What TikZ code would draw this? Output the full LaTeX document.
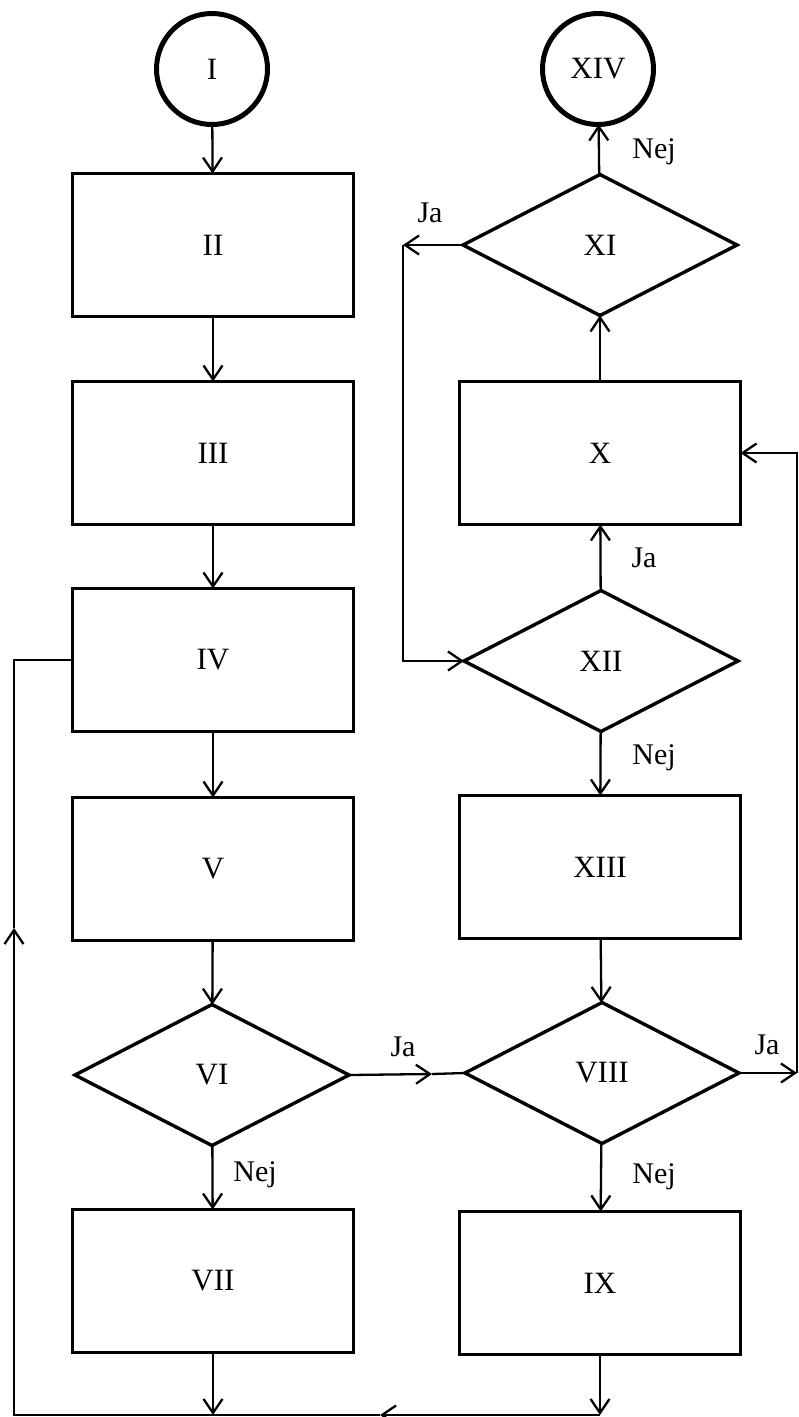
\documentclass[tikz,border=0pt]{standalone}
\usepackage{fontspec}
\setmainfont{Liberation Serif}
\usetikzlibrary{arrows.meta,shapes.geometric}
\begin{document}
\begin{tikzpicture}[x=1pt,y=-1pt,
  box/.style={draw,rectangle,line width=3.8pt,minimum width=281pt,minimum height=143pt,outer sep=0pt,font=\fontsize{31}{36}\selectfont},
  dia/.style={draw,diamond,line width=3.4pt,minimum width=274pt,minimum height=141pt,inner sep=0pt,outer sep=0pt,font=\fontsize{31}{36}\selectfont},
  term/.style={draw,circle,line width=5pt,minimum size=111pt,inner sep=0pt,outer sep=0pt,font=\fontsize{31}{36}\selectfont},
  lbl/.style={font=\fontsize{30}{34}\selectfont,inner sep=0pt},
  conn/.style={line width=2.3pt},
  arr/.style={conn,-{Straight Barb[length=14pt,width=19pt,line width=2.3pt]}}]
\useasboundingbox (0,0) rectangle (799,1417);
% left column
\node[term] (I) at (212,69) {I};
\node[box] (II) at (213,245) {II};
\node[box] (III) at (213,453) {III};
\node[box] (IV) at (213,660) {IV};
\node[box] (V) at (213,869) {V};
\node[dia] (VI) at (212,1075) {VI};
\node[box] (VII) at (213,1281) {VII};
% right column
\node[term] (XIV) at (598,69) {XIV};
\node[dia] (XI) at (600,245) {XI};
\node[box] (X) at (600,453) {X};
\node[dia] (XII) at (601,661) {XII};
\node[box] (XIII) at (600,867) {XIII};
\node[dia] (VIII) at (602,1073) {VIII};
\node[box] (IX) at (600,1283) {IX};
% coordinates
\coordinate (mid) at (432,1074);
\coordinate (rc) at (797,1073);
\coordinate (rt) at (797,453);
\coordinate (lc) at (403,245);
\coordinate (lb) at (403,661);
\coordinate (b1) at (213,1415);
\coordinate (b2) at (600,1415);
\coordinate (bm) at (380,1415);
\coordinate (bl) at (14,1415);
\coordinate (lm) at (14,928);
\coordinate (lt) at (14,660);
% main flow
\draw[arr] (I) -- (II);
\draw[arr] (II) -- (III);
\draw[arr] (III) -- (IV);
\draw[arr] (IV) -- (V);
\draw[arr] (V) -- (VI);
\draw[arr] (VI) -- (VII);
\draw[arr] (VI.east) -- (mid);
\draw[conn] (mid) -- (VIII.west);
\draw[arr] (XIII) -- (VIII);
\draw[arr] (VIII) -- (IX);
\draw[arr] (VIII.east) -- (rc);
\draw[arr] (rc) -- (rt) -- (X.east);
\draw[arr] (X) -- (XI);
\draw[arr] (XI) -- (XIV);
\draw[arr] (XI.west) -- (lc);
\draw[arr] (lc) -- (lb) -- (XII.west);
\draw[arr] (XII) -- (X);
\draw[arr] (XII) -- (XIII);
\draw[arr] (VII) -- (b1);
\draw[arr] (IX) -- (b2);
\draw[arr] (b2) -- (bm);
\draw[arr] (bm) -- (bl) -- (lm);
\draw[conn] (lm) -- (lt) -- (IV.west);
% labels
\node[lbl] (l1) at (654,152) {Nej};
\node[lbl] (l2) at (430,213) {Ja};
\node[lbl] (l3) at (644,558) {Ja};
\node[lbl] (l4) at (654,758) {Nej};
\node[lbl] (l5) at (403,1047) {Ja};
\node[lbl] (l6) at (767,1045) {Ja};
\node[lbl] (l7) at (255,1175) {Nej};
\node[lbl] (l8) at (654,1177) {Nej};
\end{tikzpicture}
\end{document}
